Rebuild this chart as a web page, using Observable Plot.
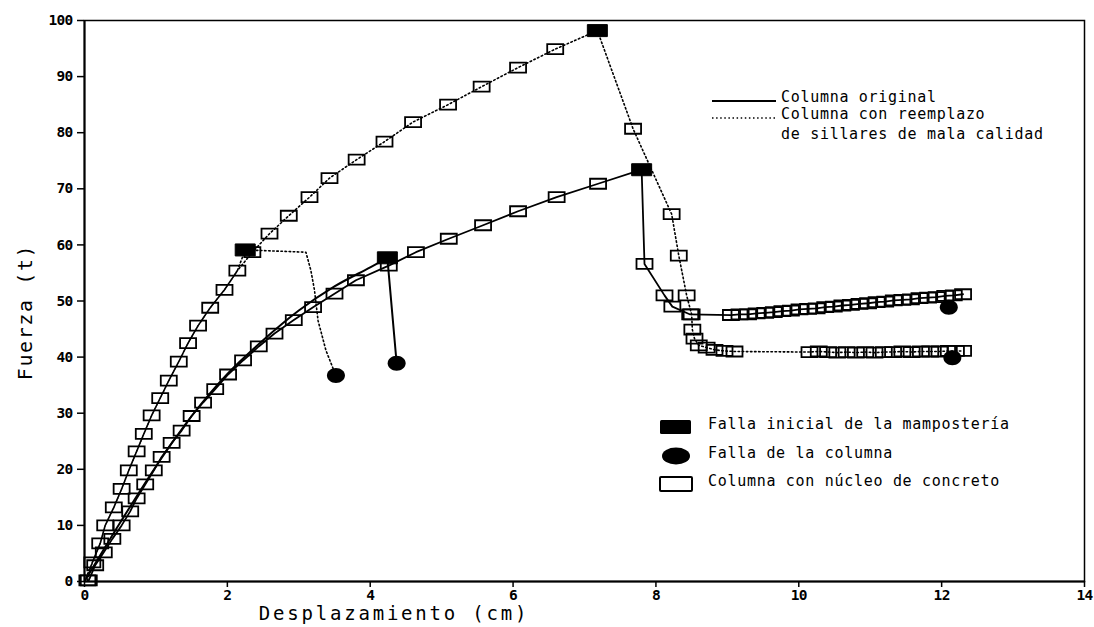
<!DOCTYPE html>
<html><head><meta charset="utf-8">
<script src="https://cdn.jsdelivr.net/npm/d3@7"></script>
<script src="https://cdn.jsdelivr.net/npm/@observablehq/plot@0.6"></script>
<style>
body{margin:0;background:#fff;}
#wrap{position:relative;width:1094px;height:627px;overflow:hidden;background:#fff;}
#wrap svg g[aria-label$="tick label"]{font-size:14.5px !important;}
#wrap svg g[aria-label$="tick label"] text{letter-spacing:-0.7px;font-weight:bold;}
.t{position:absolute;font-family:"DejaVu Sans Mono",monospace;color:#000;white-space:nowrap;line-height:1;}
.lg{font-size:15px;letter-spacing:0.7px;transform:translateY(-50%);}
.sym{position:absolute;}
</style></head><body><div id="wrap"></div>
<script>
// ---- axis ticks ----
const xTicks = [0, 2, 4, 6, 8, 10, 12, 14];
const yTicks = [0, 10, 20, 30, 40, 50, 60, 70, 80, 90, 100];

// ---- Columna original (solid line, no markers) ----
const origX = [0, 0.5, 1.0, 1.5, 2.0, 2.5, 3.0, 3.5, 4.0, 4.24, 4.37];
const origY = [0, 10.5, 20.5, 29.5, 37.0, 43.0, 48.3, 52.6, 56.0, 57.7, 38.9];

// ---- Columna con reemplazo de sillares (dotted line, no markers) ----
const reempX = [0, 0.11, 0.22, 0.29, 0.41, 0.52, 0.62, 0.73, 0.83, 0.94, 1.06, 1.18, 1.32, 1.45, 1.59, 1.76, 1.96, 2.14, 2.25, 3.10, 3.17, 3.22, 3.27, 3.38, 3.52];
const reempY = [0, 3.4, 6.8, 10.0, 13.2, 16.5, 19.8, 23.2, 26.3, 29.6, 32.7, 35.8, 39.2, 42.5, 45.6, 48.8, 52.0, 55.4, 59.1, 58.7, 55.4, 51.9, 46.5, 41.2, 36.7];

// ---- Columna original con nucleo de concreto (solid + squares) ----
const nucOrigX = [0.06, 0.15, 0.27, 0.39, 0.52, 0.64, 0.73, 0.85, 0.97, 1.08, 1.22, 1.36, 1.50, 1.66, 1.83, 2.01, 2.22, 2.44, 2.66, 2.93, 3.20, 3.50, 3.80, 4.26, 4.64, 5.10, 5.58, 6.07, 6.61, 7.19, 7.80, 7.84, 8.12, 8.23, 8.48, 9.05, 9.17, 9.29, 9.41, 9.53, 9.65, 9.77, 9.89, 10.01, 10.13, 10.25, 10.37, 10.49, 10.61, 10.73, 10.85, 10.97, 11.09, 11.21, 11.33, 11.45, 11.57, 11.69, 11.81, 11.93, 12.05, 12.17, 12.30];
const nucOrigY = [0.2, 2.9, 5.2, 7.6, 10.0, 12.5, 14.8, 17.3, 19.8, 22.2, 24.7, 26.9, 29.5, 31.9, 34.3, 36.9, 39.4, 41.9, 44.2, 46.6, 48.9, 51.3, 53.7, 56.3, 58.7, 61.1, 63.5, 66.0, 68.5, 70.9, 73.4, 56.6, 51.0, 49.0, 47.6, 47.5, 47.6, 47.6, 47.8, 47.9, 48.0, 48.2, 48.3, 48.5, 48.6, 48.7, 48.9, 49.0, 49.2, 49.3, 49.5, 49.6, 49.8, 49.9, 50.1, 50.2, 50.3, 50.5, 50.6, 50.7, 50.9, 51.0, 51.2];

// ---- Columna con reemplazo y nucleo de concreto (dotted + squares) ----
const nucReempX = [0.04, 0.11, 0.22, 0.29, 0.41, 0.52, 0.62, 0.73, 0.83, 0.94, 1.06, 1.18, 1.32, 1.45, 1.59, 1.76, 1.96, 2.14, 2.35, 2.59, 2.86, 3.15, 3.43, 3.81, 4.20, 4.60, 5.09, 5.56, 6.07, 6.59, 7.18, 7.68, 8.22, 8.32, 8.43, 8.50, 8.51, 8.54, 8.60, 8.71, 8.82, 8.96, 9.10, 10.15, 10.28, 10.41, 10.54, 10.67, 10.80, 10.93, 11.06, 11.19, 11.32, 11.45, 11.58, 11.71, 11.84, 11.97, 12.10, 12.20, 12.30];
const nucReempY = [0.2, 3.4, 6.8, 10.0, 13.2, 16.5, 19.8, 23.2, 26.3, 29.6, 32.7, 35.8, 39.2, 42.5, 45.6, 48.8, 52.0, 55.4, 58.7, 62.0, 65.2, 68.5, 71.9, 75.2, 78.4, 81.9, 85.0, 88.2, 91.6, 94.9, 98.2, 80.7, 65.5, 58.1, 51.0, 47.6, 44.9, 43.3, 42.1, 41.7, 41.3, 41.1, 41.0, 40.9, 41.0, 40.9, 40.8, 40.9, 40.8, 40.9, 40.8, 40.9, 40.9, 41.0, 40.9, 41.0, 41.0, 41.0, 41.1, 41.1, 41.1];

// ---- Falla inicial de la mamposteria (filled rectangles) ----
const iniX = [2.25, 4.24, 7.18, 7.80];
const iniY = [59.1, 57.7, 98.2, 73.4];

// ---- Falla de la columna (filled ellipses) ----
const falX = [3.52, 4.37, 12.10, 12.15];
const falY = [36.7, 38.9, 48.9, 39.9];

// ---- legend texts ----
const lineLegend = ["Columna original", "Columna con reemplazo", "de sillares de mala calidad"];
const symLegend = ["Falla inicial de la mampostería", "Falla de la columna", "Columna con núcleo de concreto"];
const xLabel = "Desplazamiento (cm)";
const yLabel = "Fuerza (t)";

// ---------- build ----------
const pts = (X, Y) => X.map((x, i) => ({x, y: Y[i]}));
const orig = pts(origX, origY);
const reemp = pts(reempX, reempY);
const nucOrig = pts(nucOrigX, nucOrigY);
const nucReemp = pts(nucReempX, nucReempY);
const ini = pts(iniX, iniY);
const fal = pts(falX, falY);
const isIni = d => iniX.some((v, i) => v === d.x && iniY[i] === d.y);
const squares = nucOrig.concat(nucReemp).filter(d => !isIni(d));

const rectSym = (w, h) => ({draw(ctx) { ctx.rect(-w / 2, -h / 2, w, h); }});
const ellSym = (w, h) => ({draw(ctx) {
  const a = w / 2, b = h / 2, k = 0.5523;
  ctx.moveTo(a, 0);
  ctx.bezierCurveTo(a, k * b, k * a, b, 0, b);
  ctx.bezierCurveTo(-k * a, b, -a, k * b, -a, 0);
  ctx.bezierCurveTo(-a, -k * b, -k * a, -b, 0, -b);
  ctx.bezierCurveTo(k * a, -b, a, -k * b, a, 0);
  ctx.closePath();
}});

const dotted = "1.5,2.6";
const chart = Plot.plot({
  width: 1094, height: 627,
  marginLeft: 84, marginRight: 10, marginTop: 20, marginBottom: 46,
  style: {fontFamily: "DejaVu Sans Mono", fontSize: "14px", color: "#000", background: "#fff"},
  x: {domain: [0, 14]},
  y: {domain: [0, 100]},
  marks: [
    Plot.frame({stroke: "#000", strokeWidth: 1.5}),
    Plot.axisX({ticks: xTicks, tickSize: 6, tickPadding: 2, label: null, strokeWidth: 1.5}),
    Plot.axisY({ticks: yTicks, tickSize: 7, tickPadding: 5, label: null, strokeWidth: 1.5}),
    Plot.ruleY([0], {stroke: "#000", strokeWidth: 2}),
    Plot.ruleX([0], {stroke: "#000", strokeWidth: 2}),
    Plot.line(orig.slice(0, -1), {x: "x", y: "y", curve: "catmull-rom", stroke: "#000", strokeWidth: 2}),
    Plot.line(orig.slice(-2), {x: "x", y: "y", stroke: "#000", strokeWidth: 2}),
    Plot.line(reemp, {x: "x", y: "y", stroke: "#000", strokeWidth: 1.6, strokeDasharray: dotted}),
    Plot.line(nucOrig, {x: "x", y: "y", stroke: "#000", strokeWidth: 1.8}),
    Plot.line(nucReemp, {x: "x", y: "y", stroke: "#000", strokeWidth: 1.6, strokeDasharray: dotted}),
    Plot.dot(squares, {x: "x", y: "y", symbol: rectSym(16, 10), fill: "none", stroke: "#000", strokeWidth: 1.8}),
    Plot.dot(ini, {x: "x", y: "y", symbol: rectSym(20, 12), fill: "#000", stroke: "#000", strokeWidth: 1, strokeLinejoin: "round"}),
    Plot.dot(fal, {x: "x", y: "y", symbol: ellSym(18, 15), fill: "#000", stroke: "none"})
  ]
});
const wrap = document.getElementById("wrap");
wrap.appendChild(chart);

function addText(txt, left, top, cls, extra) {
  const d = document.createElement("div");
  d.className = "t " + (cls || "");
  d.textContent = txt;
  d.style.left = left + "px";
  d.style.top = top + "px";
  if (extra) Object.assign(d.style, extra);
  wrap.appendChild(d);
  return d;
}
function addSvg(left, top, w, h, inner) {
  const d = document.createElement("div");
  d.className = "sym";
  d.style.left = left + "px"; d.style.top = top + "px";
  d.innerHTML = `<svg width="${w}" height="${h}" xmlns="http://www.w3.org/2000/svg">${inner}</svg>`;
  wrap.appendChild(d);
}

// axis titles
addText(xLabel, 394, 613, "", {fontSize: "19px", letterSpacing: "2.8px", transform: "translate(-50%,-50%)"});
addText(yLabel, 25, 312, "", {fontSize: "20px", letterSpacing: "1.6px", transform: "translate(-50%,-50%) rotate(-90deg)"});

// line legend
addSvg(712, 92, 66, 10, `<line x1="0" y1="5" x2="64" y2="5" stroke="#000" stroke-width="2"/>`);
addSvg(712, 109, 66, 10, `<line x1="0" y1="5" x2="64" y2="5" stroke="#000" stroke-width="1.6" stroke-dasharray="${dotted}"/>`);
addText(lineLegend[0], 781, 97, "lg");
addText(lineLegend[1], 781, 114, "lg");
addText(lineLegend[2], 781, 134, "lg");

// symbol legend
addSvg(658, 418, 40, 20, `<rect x="2" y="2" width="31" height="14" fill="#000" rx="1.5"/>`);
addSvg(658, 446, 40, 22, `<ellipse cx="18" cy="10" rx="14" ry="8.5" fill="#000"/>`);
addSvg(658, 474, 40, 22, `<rect x="2" y="3" width="32" height="14" fill="none" stroke="#000" stroke-width="2" rx="1"/>`);
addText(symLegend[0], 708, 424, "lg");
addText(symLegend[1], 708, 453, "lg");
addText(symLegend[2], 708, 481, "lg");
</script>
</body></html>
